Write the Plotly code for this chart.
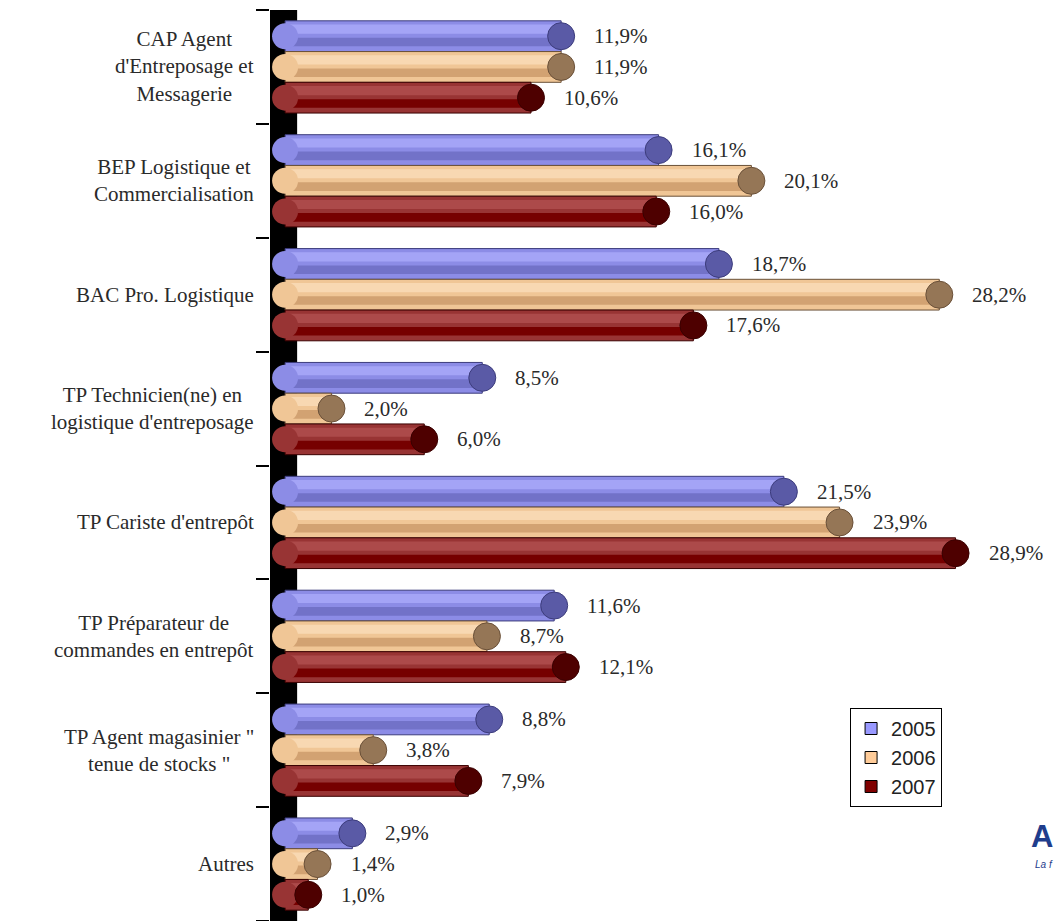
import plotly.graph_objects as go

categories = [
    "CAP Agent<br>d'Entreposage et<br>Messagerie",
    "BEP Logistique et<br>Commercialisation",
    "BAC Pro. Logistique",
    "TP Technicien(ne) en<br>logistique d'entreposage",
    "TP Cariste d'entrepôt",
    "TP Préparateur de<br>commandes en entrepôt",
    "TP Agent magasinier \"<br>tenue de stocks \"",
    "Autres",
]
series_names = ["2005", "2006", "2007"]
v2005 = [11.9, 16.1, 18.7, 8.5, 21.5, 11.6, 8.8, 2.9]
v2006 = [11.9, 20.1, 28.2, 2.0, 23.9, 8.7, 3.8, 1.4]
v2007 = [10.6, 16.0, 17.6, 6.0, 28.9, 12.1, 7.9, 1.0]
values = [v2005, v2006, v2007]

# styles
body_col = ["#8c8ce6", "#f0c696", "#983434"]
light_col = ["#a4a4f6", "#f8d8b2", "#ac4a4a"]
dark_col = ["#7272c8", "#d2a272", "#760000"]
edge_col = ["#3c3c7c", "#6a5038", "#3a0000"]
cap_col = ["#5a5aa6", "#957656", "#4e0000"]
legend_col = ["#9999ff", "#ffcc99", "#800000"]

SERIF = "Liberation Serif, Times New Roman, serif"

W = 0.27
offsets = [-1.5 * W, -0.5 * W, 0.5 * W]
ypos = list(range(len(categories)))

fig = go.Figure()

for s in range(3):
    o = offsets[s]
    fig.add_trace(go.Bar(
        x=values[s], y=ypos, orientation="h", name=series_names[s],
        width=W, offset=o,
        marker=dict(color=body_col[s], line=dict(color=edge_col[s], width=1)),
        showlegend=False, hoverinfo="skip",
    ))
    fig.add_trace(go.Bar(
        x=values[s], y=ypos, orientation="h", width=W * 0.3, offset=o + W * 0.12,
        marker=dict(color=light_col[s], line=dict(width=0)),
        showlegend=False, hoverinfo="skip",
    ))
    fig.add_trace(go.Bar(
        x=values[s], y=ypos, orientation="h", width=W * 0.28, offset=o + W * 0.55,
        marker=dict(color=dark_col[s], line=dict(width=0)),
        showlegend=False, hoverinfo="skip",
    ))

for s in range(3):
    yc = [y + offsets[s] + W / 2 for y in ypos]
    fig.add_trace(go.Scatter(
        x=[0] * len(ypos), y=yc, mode="markers",
        marker=dict(symbol="circle", size=26, color=body_col[s], line=dict(width=0)),
        showlegend=False, hoverinfo="skip",
    ))
    fig.add_trace(go.Scatter(
        x=values[s], y=yc, mode="markers",
        marker=dict(symbol="circle", size=27, color=cap_col[s],
                    line=dict(color=edge_col[s], width=1)),
        showlegend=False, hoverinfo="skip",
    ))

for s in range(3):
    fig.add_trace(go.Bar(
        x=[None], y=[None], orientation="h", name=series_names[s],
        marker=dict(color=legend_col[s], line=dict(color="#000000", width=1)),
        showlegend=True,
    ))

annotations = []
for s in range(3):
    for i, v in enumerate(values[s]):
        annotations.append(dict(
            x=v, y=i + offsets[s] + W / 2, xref="x", yref="y",
            text=f"{v:.1f}".replace(".", ",") + "%",
            showarrow=False, xanchor="left", yanchor="middle", xshift=31, yshift=0,
            font=dict(family=SERIF, size=21, color="#2a2a2a"),
        ))
for i, c in enumerate(categories):
    annotations.append(dict(
        x=-0.0178, y=i, xref="paper", yref="y", text=c, showarrow=False,
        xanchor="right", yanchor="middle", align="center",
        font=dict(family=SERIF, size=21, color="#2a2a2a"),
    ))
annotations.append(dict(
    x=1.0, y=0.093, xref="paper", yref="paper", text="<b>A</b>", showarrow=False,
    xanchor="right", yanchor="middle", xshift=-1,
    font=dict(family="Liberation Sans", size=31, color="#1f3d8c"),
))
annotations.append(dict(
    x=1.0, y=0.062, xref="paper", yref="paper", text="<i>La f</i>", showarrow=False,
    xanchor="right", yanchor="middle", xshift=-1,
    font=dict(family="Liberation Sans", size=10, color="#1f3d8c"),
))

shapes = [dict(
    type="rect", xref="x", yref="paper", x0=-0.65, x1=0.52, y0=0, y1=1,
    fillcolor="#000000", line=dict(width=0), layer="below",
)]

fig.update_layout(
    width=1056, height=921,
    margin=dict(l=270, r=0, t=10, b=0),
    paper_bgcolor="white", plot_bgcolor="white",
    barmode="overlay",
    xaxis=dict(range=[-0.65, 33.23], visible=False, showgrid=False, zeroline=False),
    yaxis=dict(range=[7.5, -0.5], autorange=False, tickmode="array",
               tickvals=[i - 0.5 for i in range(len(categories) + 1)],
               showticklabels=False, ticks="outside", ticklen=13, tickwidth=1.5,
               tickcolor="#000000", showgrid=False, zeroline=False, showline=False),
    legend=dict(x=0.738, y=0.2338, xanchor="left", yanchor="top",
                bordercolor="#000000", borderwidth=1, bgcolor="white",
                font=dict(family="Liberation Sans", size=20, color="#222222"),
                traceorder="normal", tracegroupgap=0),
    annotations=annotations, shapes=shapes,
    showlegend=True,
)

fig.write_html("out.html", config={"displayModeBar": False},
               post_script="document.body.style.margin='0px';")
